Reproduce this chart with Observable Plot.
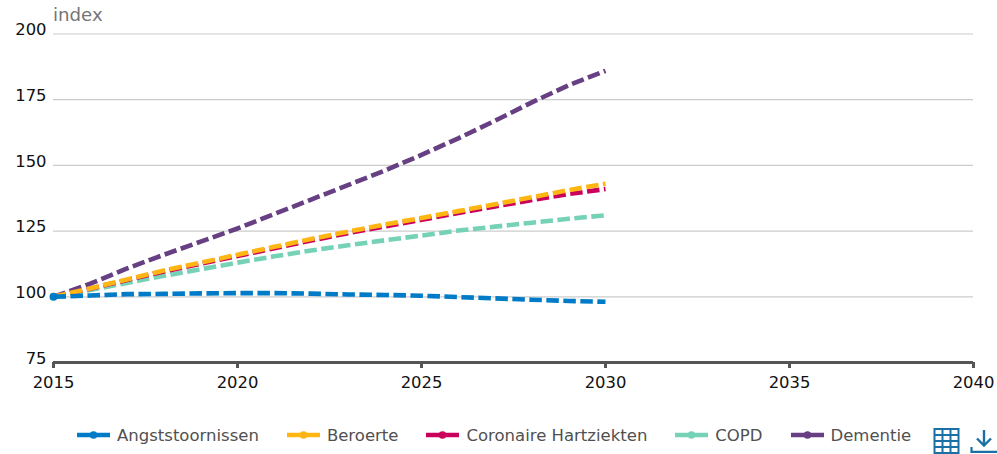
<!DOCTYPE html>
<html>
<head>
<meta charset="utf-8">
<script src="https://cdn.jsdelivr.net/npm/d3@7"></script>
<script src="https://cdn.jsdelivr.net/npm/@observablehq/plot@0.6"></script>
<style>
html,body{margin:0;padding:0;background:#fff;overflow:hidden;width:997px;height:454px}
#chart{position:relative;width:997px;height:454px;font-family:"DejaVu Sans",sans-serif}
#chart svg.plot,#chart>svg:first-child{position:absolute;left:0;top:0}
#unit{position:absolute;left:53px;top:4px;font-size:18.2px;color:#757575}
#legend{position:absolute;left:77px;top:425px;display:flex;align-items:center;font-size:16.5px;color:#505050;white-space:nowrap;height:20px}
.item{display:flex;align-items:center;margin-right:28px}
.item svg{margin-right:7px;display:block}
#tools{position:absolute;left:933px;top:427px}
</style>
</head>
<body>
<div id="chart">
<div id="unit">index</div>
<div id="legend"></div>
<svg id="tools" width="64" height="27" viewBox="0 0 64 27" fill="none" stroke="#1a6fa5" stroke-width="2">
<rect x="1.5" y="2" width="24" height="24"/><path d="M1.5 8H25.5M1.5 14H25.5M1.5 20H25.5M9.5 2V26M17.5 2V26"/>
<path d="M51 3V18M44 11.5L51 18.5L58 11.5" stroke-width="2.4"/><path d="M38.5 20V24.8H64" stroke-width="2.2"/>
</svg>
</div>
<script>
const years = [2015,2016,2017,2018,2019,2020,2021,2022,2023,2024,2025,2026,2027,2028,2029,2030];
const angst = [100,100.5,101,101.1,101.3,101.4,101.4,101.2,100.9,100.7,100.4,99.9,99.4,98.9,98.4,98.1];
const beroerte = [100,103.2,106.6,110,113,116,119,122,124.8,127.5,130,132.6,135.2,137.9,140.6,143];
const coronaire = [100,103.1,106.4,109.6,112.6,115.5,118.5,121.4,124.2,126.8,129.3,131.9,134.4,136.8,139.1,141];
const copd = [100,102.6,105.3,108,110.5,113,115.4,117.6,119.6,121.5,123.3,125.2,126.7,128.2,129.7,131];
const dementie = [100,105,110.8,116,121,126,131.5,137,142.5,148,154,160.3,167,174,180.5,186];
const names = ["Angststoornissen","Beroerte","Coronaire Hartziekten","COPD","Dementie"];
const colors = ["#007bc7","#ffb612","#ca005d","#76d2b6","#673f83"];
const seriesValues = [angst,beroerte,coronaire,copd,dementie];
const yTicks = [75,100,125,150,175,200];
const xTicks = [2015,2020,2025,2030,2035,2040];

const rows = names.flatMap((name,i)=>seriesValues[i].map((v,j)=>({name,year:years[j],value:v,color:colors[i]})));
const drawOrder = [...names].reverse();
const lineMarks = drawOrder.map(n=>Plot.line(rows.filter(d=>d.name===n),{
  x:"year",y:"value",stroke:"color",strokeWidth:4.6,strokeDasharray:"12.5,4.5",strokeLinecap:"butt",curve:"linear"
}));
const plot = Plot.plot({
  width:997,height:400,marginLeft:53,marginRight:24,marginTop:33.5,marginBottom:38,
  style:{fontFamily:'"DejaVu Sans",sans-serif',fontSize:"16.4px",color:"#111",background:"transparent"},
  x:{domain:[2015,2040]},
  y:{domain:[75,200]},
  marks:[
    Plot.ruleY(yTicks.filter(d=>d>75),{y:d=>d,stroke:"#ccc",strokeWidth:1.2,strokeOpacity:1}),
    Plot.ruleY([75],{stroke:"#555",strokeWidth:3,strokeOpacity:1}),
    Plot.axisY({ticks:yTicks,tickSize:0,tickPadding:7,label:null,dy:-4,fontSize:16.4}),
    Plot.axisX({ticks:xTicks,tickFormat:d=>String(d),tickSize:6,tickPadding:8,label:null,stroke:"#555",strokeWidth:3,strokeOpacity:1,fontSize:16.4}),
    ...lineMarks,
    Plot.dot(rows.filter(d=>d.year===2015&&d.name===names[0]),{x:"year",y:"value",fill:"color",r:4})
  ]
});
document.getElementById("chart").prepend(plot);

const legend = document.getElementById("legend");
names.forEach((n,i)=>{
  const it = document.createElement("div");
  it.className="item";
  it.innerHTML=`<svg width="33" height="12"><path d="M0 6H33" stroke="${colors[i]}" stroke-width="4.4"/><circle cx="16.5" cy="6" r="3.8" fill="${colors[i]}"/></svg><span>${n}</span>`;
  legend.appendChild(it);
});
</script>
</body>
</html>
